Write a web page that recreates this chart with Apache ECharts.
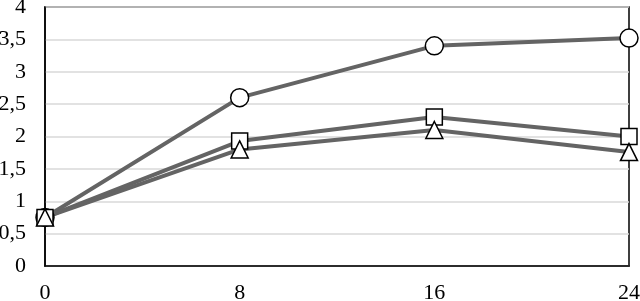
<!DOCTYPE html>
<html><head><meta charset="utf-8">
<script src="https://cdn.jsdelivr.net/npm/echarts@6/dist/echarts.min.js"></script>
<style>html,body{margin:0;padding:0;background:#fff}#c{width:640px;height:301px}</style>
</head><body><div id="c"></div>
<script>
var xValues = [0, 8, 16, 24];
var circleSeries = [0.75, 2.6, 3.4, 3.52];
var squareSeries = [0.75, 1.93, 2.3, 2.0];
var triangleSeries = [0.75, 1.8, 2.1, 1.76];
var yTicks = [0, 0.5, 1, 1.5, 2, 2.5, 3, 3.5, 4];

function pairs(vals){ return xValues.map(function(x,i){ return [x, vals[i]]; }); }
var font = {fontFamily: "'Liberation Serif', 'Times New Roman', serif", fontSize: 22, color: '#000'};
function mk(name, data, symbol, size){
  return {name:name, type:'line', data:pairs(data), symbol:symbol, symbolSize:size,
    showAllSymbol:true,
    lineStyle:{color:'#646464', width:4},
    itemStyle:{color:'#fff', borderColor:'#000', borderWidth:1.5}, z:2};
}
var chart = echarts.init(document.getElementById('c'), null, {renderer:'canvas'});
chart.setOption({
  animation:false,
  grid:{left:45, right:11, top:7, bottom:35, containLabel:false, outerBoundsMode:'none',
    show:true, borderColor:'#000', borderWidth:1.5, backgroundColor:'transparent'},
  xAxis:{type:'value', min:0, max:24, interval:8,
    axisLine:{show:true, lineStyle:{color:'#000', width:1.5}}, axisTick:{show:false},
    splitLine:{show:false},
    axisLabel:Object.assign({margin:16, formatter:function(v){return String(v);}}, font)},
  yAxis:{type:'value', min:0, max:4, interval:0.5,
    axisLine:{show:true, lineStyle:{color:'#000', width:1.5}}, axisTick:{show:false},
    splitLine:{show:true, lineStyle:{color:'#d9d9d9', width:1.5}},
    axisLabel:Object.assign({margin:19, formatter:function(v){
      return yTicks.indexOf(v) >= 0 ? String(v).replace('.', ',') : '';
    }}, font)},
  series:[
    mk('circle', circleSeries, 'circle', 18),
    mk('square', squareSeries, 'rect', 16),
    mk('triangle', triangleSeries, 'triangle', 17)
  ]
});
</script></body></html>
